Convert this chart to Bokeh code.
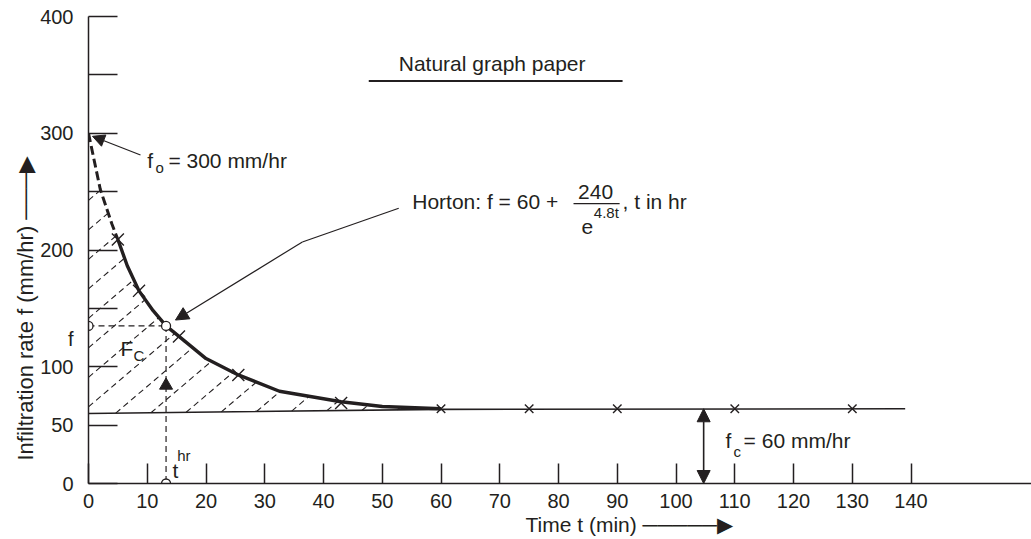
import numpy as np
from bokeh.plotting import figure
from bokeh.models import Range1d, FixedTicker, Label, Arrow, NormalHead, Title
from bokeh.embed import file_html
from bokeh.resources import INLINE

# ---------------- data ----------------
dash_t = [0, 2, 4, 5]                      # dashed extrapolated part (min)
dash_f = [300, 252, 222, 209]              # mm/hr
curve_t = [5, 6.6, 8.6, 11, 13.2, 15.4, 20, 25.5, 32.5, 43, 50, 60]
curve_f = [209, 186.5, 165, 148, 135, 126, 107, 93, 79, 70, 66, 64]
cross_t = [5, 8.6, 15.4, 25.5, 43]
cross_f = [209, 165, 126, 93, 69]
steady_t = [60, 75, 90, 110, 130]
steady_f = [64, 64, 64, 64, 64]
base_t = [0, 60, 139]
base_f = [60, 63.5, 64]
t_mark = 13.2
f_mark = 135
f_label_pos = 124
x_ticks = list(range(0, 141, 10))
y_ticks = list(range(0, 401, 50))
y_label_ticks = [0, 50, 100, f_label_pos, 200, 300, 400]
y_label_overrides = {f_label_pos: "f"}

# ---------------- figure ----------------
C = "#231f20"
FONT = "Liberation Sans"
W, H = 1031, 539
ML, MR, MT, MB = 88, 0, 16, 56
X_END = 160.5

p = figure(width=W, height=H, output_backend="svg", toolbar_location=None,
           x_range=Range1d(0, X_END), y_range=Range1d(0, 400),
           min_border_left=ML, min_border_right=MR, min_border_top=MT,
           min_border_bottom=MB)
p.outline_line_color = None
p.grid.visible = False
p.background_fill_color = "white"
p.border_fill_color = "white"

xa = p.xaxis[0]
xa.ticker = FixedTicker(ticks=x_ticks)
xa.major_tick_in = 20
xa.major_tick_out = 0
xa.minor_tick_line_color = None
xa.axis_line_width = 1.5
xa.axis_line_color = C
xa.major_tick_line_color = C
xa.major_tick_line_width = 1.5
xa.major_label_text_font = FONT
xa.major_label_text_font_size = "20px"
xa.major_label_text_color = C
xa.major_label_standoff = 10

ya = p.yaxis[0]
ya.ticker = FixedTicker(ticks=y_label_ticks, minor_ticks=y_ticks)
ya.major_label_overrides = y_label_overrides
ya.major_tick_line_color = None
ya.major_tick_in = 0
ya.major_tick_out = 0
ya.minor_tick_in = 29
ya.minor_tick_out = 0
ya.minor_tick_line_color = C
ya.minor_tick_line_width = 1.5
ya.axis_line_width = 1.5
ya.axis_line_color = C
ya.major_label_text_font = FONT
ya.major_label_text_font_size = "20px"
ya.major_label_text_color = C
ya.major_label_standoff = 15

p.add_layout(Title(text="Infiltration rate f (mm/hr) \u2500\u2500\u2500\u25B6",
                   align="left", offset=23, standoff=0, text_font=FONT,
                   text_font_size="22px", text_font_style="normal",
                   text_color=C), "left")
p.add_layout(Title(text="Time t (min)   \u2500\u2500\u2500\u2500\u2500\u25B6",
                   align="left", offset=437, standoff=0, text_font=FONT,
                   text_font_size="21px", text_font_style="normal",
                   text_color=C), "below")

# ---------------- hatching of F_C area ----------------
px_x = (W - ML - MR) / X_END
px_y = (H - MT - MB) / 400
slope = 0.85 * px_x / px_y
step = 29.5 / px_y
c0 = 65.7
upper_t = dash_t + curve_t[1:]
upper_f = dash_f + curve_f[1:]
grid = np.linspace(0, 60, 6001)
up = np.interp(grid, upper_t, upper_f)
lo = np.interp(grid, base_t, base_f)
hx, hy = [], []
for k in range(-12, 8):
    c = c0 + k * step
    h = c + slope * grid
    idx = np.where((h >= lo) & (h <= up))[0]
    if len(idx) == 0:
        continue
    t0, t1 = grid[idx[0]], grid[idx[-1]]
    if t1 - t0 < 0.3:
        continue
    hx.append([t0, t1])
    hy.append([c + slope * t0, c + slope * t1])
p.multi_line(hx, hy, line_color=C, line_width=1.1, line_dash="6 4")

# ---------------- lines ----------------
p.line(base_t, base_f, line_color=C, line_width=1.6)
p.line(dash_t, dash_f, line_color=C, line_width=3, line_dash="9 4")
p.line(curve_t, curve_f, line_color=C, line_width=3.4, line_join="round")

p.line([0, t_mark], [f_mark, f_mark], line_color=C, line_width=1.2, line_dash="6 4")
p.line([t_mark, t_mark], [f_mark, 0], line_color=C, line_width=1.2, line_dash="6 4")
p.scatter([t_mark], [84], marker="triangle", size=13, fill_color=C, line_color=C)

p.scatter(cross_t, cross_f, marker="x", size=17, line_color=C, line_width=1.4)
p.scatter(steady_t, steady_f, marker="x", size=12, line_color=C, line_width=1.4)

p.scatter([0, t_mark, t_mark], [f_mark, f_mark, 0], marker="circle", size=9,
          fill_color="white", line_color=C, line_width=1.3)

# title underline and Horton fraction bar
p.line([47.7, 90.9], [344.8, 344.8], line_color=C, line_width=2)
p.line([82.55, 90.4], [239.8, 239.8], line_color=C, line_width=1.3)

# Horton leader
p.line([52.8, 36.4], [235.8, 206.9], line_color=C, line_width=1.2)


def head(size=12):
    return NormalHead(size=size, fill_color=C, line_color=C, line_width=1)


def arrow(x0, y0, x1, y1, both=False, size=12, lw=1.2):
    p.add_layout(Arrow(start=head(size) if both else None, end=head(size),
                       x_start=x0, y_start=y0, x_end=x1, y_end=y1,
                       line_color=C, line_width=lw))


def lab(x, y, text, size=21, align="left", angle=0.0):
    p.add_layout(Label(x=x, y=y, text=text, text_font=FONT,
                       text_font_size=f"{size}px", text_color=C,
                       text_align=align, text_baseline="middle", angle=angle))


arrow(36.4, 206.9, 14.8, 140, size=13)
arrow(8.85, 281.4, 0.68, 297.4, size=12)
arrow(104.7, 64, 104.7, 0, both=True, size=13, lw=1.6)

# ---------------- texts ----------------
lab(68.7, 360, "Natural graph paper", align="center")
lab(10.0, 276.9, "f")
lab(11.4, 271, "o", size=15)
lab(13.6, 276.9, " = 300 mm/hr")
lab(55.1, 241.2, "Horton: f = 60 +")
lab(86.3, 249.8, "240", align="center")
lab(84.9, 219.8, "e", align="center")
lab(86.0, 232, "4.8t", size=15)
lab(90.9, 241.2, ", t in hr")
lab(5.45, 115.9, "F")
lab(7.66, 110, "C", size=15)
lab(14.3, 11.4, "t")
lab(15.1, 24.3, "hr", size=15)
lab(108.4, 37.1, "f")
lab(109.8, 27, "c", size=15)
lab(111.5, 37.1, " = 60 mm/hr")

open("out.html", "w").write(file_html(p, INLINE))
